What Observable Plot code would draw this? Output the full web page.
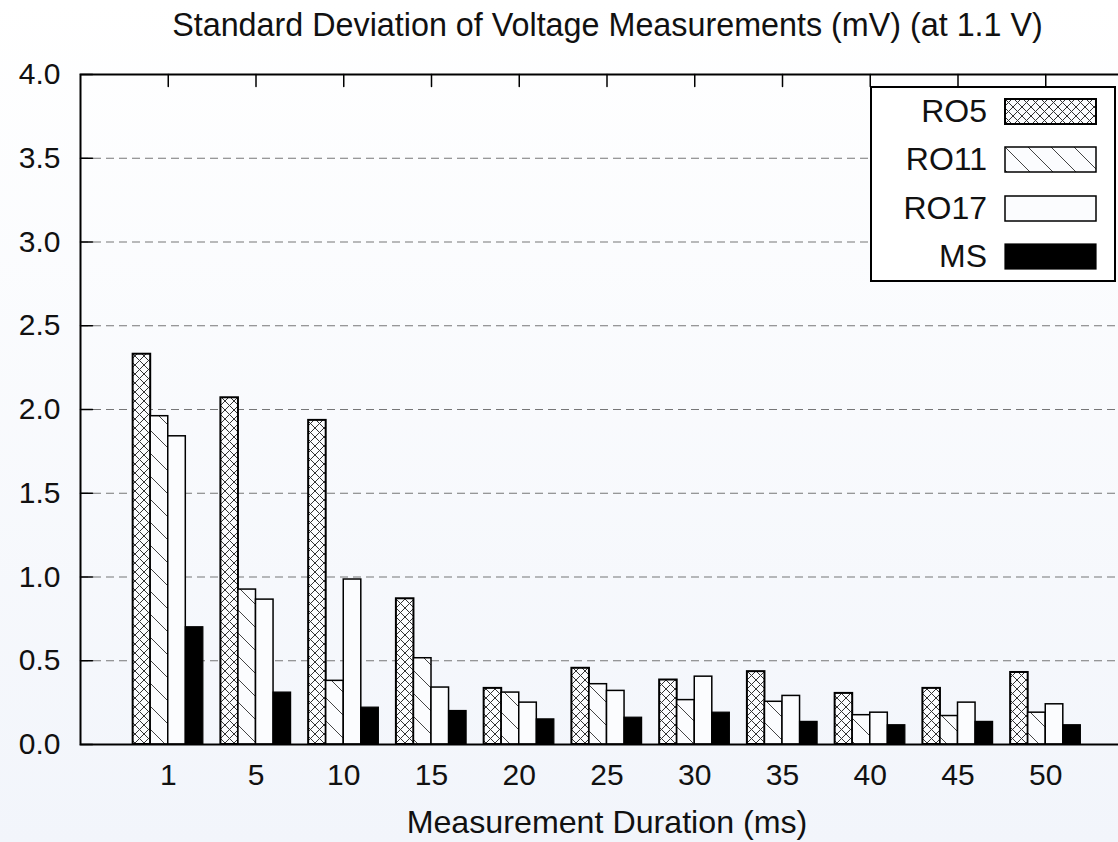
<!DOCTYPE html>
<html>
<head>
<meta charset="utf-8">
<script src="https://cdn.jsdelivr.net/npm/d3@7"></script>
<script src="https://cdn.jsdelivr.net/npm/@observablehq/plot@0.6"></script>
<style>
html, body { margin: 0; padding: 0; width: 1118px; height: 842px; overflow: hidden;
  background: linear-gradient(to bottom, #ffffff 0%, #f2f5fb 100%);
  font-family: "Liberation Sans", Arial, Helvetica, sans-serif; color: #111; }
#wrap { position: relative; width: 1118px; height: 842px; overflow: hidden; }
#title { position: absolute; left: 0; top: 0; width: 1215px; text-align: center; font-size: 32.3px; line-height: 51px; white-space: nowrap; }
#chart { position: absolute; left: 0; top: 50px; width: 1145px; }
#chart svg { max-width: none !important; }
#legend { position: absolute; left: 870px; top: 86px; width: 242px; height: 192px; background: #fff; border: 2px solid #000; box-sizing: content-box; }
.lrow { position: absolute; left: 0; width: 242px; height: 25px; }
.lrow .lab { position: absolute; right: 127px; top: -5px; font-size: 32px; line-height: 36px; white-space: nowrap; }
.lrow svg { position: absolute; left: 132px; top: 0; }
#defs { position: absolute; width: 0; height: 0; }
</style>
</head>
<body>
<svg id="defs" width="0" height="0">
  <defs>
    <pattern id="patRO5" patternUnits="userSpaceOnUse" width="9" height="9">
      <rect width="9" height="9" fill="#fbfcfe"/>
      <path d="M0,0L9,9M9,0L0,9" stroke="#333" stroke-width="1" fill="none"/>
    </pattern>
    <pattern id="patRO11" patternUnits="userSpaceOnUse" width="23" height="23">
      <rect width="23" height="23" fill="#fbfcfe"/>
      <path d="M0,0L23,23M-6,17L6,29M17,-6L29,6" stroke="#444" stroke-width="1" fill="none"/>
    </pattern>
  </defs>
</svg>
<div id="wrap">
  <div id="title"></div>
  <div id="chart"></div>
  <div id="legend"></div>
</div>
<script>
const titleText = "Standard Deviation of Voltage Measurements (mV) (at 1.1 V)";
const xLabel = "Measurement Duration (ms)";
const durations = ["1", "5", "10", "15", "20", "25", "30", "35", "40", "45", "50"];
const seriesNames = ["RO5", "RO11", "RO17", "MS"];
const ro5  = [2.33, 2.07, 1.935, 0.87, 0.335, 0.455, 0.385, 0.435, 0.305, 0.335, 0.43];
const ro11 = [1.96, 0.925, 0.38, 0.515, 0.31, 0.36, 0.265, 0.255, 0.175, 0.17, 0.19];
const ro17 = [1.84, 0.865, 0.985, 0.34, 0.25, 0.32, 0.405, 0.29, 0.19, 0.25, 0.24];
const ms   = [0.70, 0.31, 0.22, 0.20, 0.15, 0.16, 0.19, 0.135, 0.115, 0.135, 0.115];
const yTicks = [0, 0.5, 1, 1.5, 2, 2.5, 3, 3.5, 4];
const gridValues = [0.5, 1, 1.5, 2, 2.5, 3, 3.5];

const seriesValues = [ro5, ro11, ro17, ms];
const fills = ["url(#patRO5)", "url(#patRO11)", "#fbfcfe", "#000"];
const strokeWidths = [2, 1.5, 1.5, 1.2];

const rows = [];
seriesValues.forEach((vals, s) => vals.forEach((v, g) => rows.push({g, s, series: seriesNames[s], duration: durations[g], value: v})));

document.getElementById("title").textContent = titleText;

const groupIdx = durations.map((d, i) => i);
const barW = 0.2;
const lineShape = {draw(context, l) { context.moveTo(0, 0); context.lineTo(0, -l); }};

const plot = Plot.plot({
  width: 1145,
  height: 792,
  marginLeft: 80,
  marginRight: 12,
  marginTop: 24,
  marginBottom: 98,
  style: {background: "transparent", fontFamily: "'Liberation Sans', Arial, Helvetica, sans-serif", color: "#111", maxWidth: "none"},
  x: {type: "linear", domain: [-1, 11], axis: null},
  y: {domain: [0, 4], axis: null},
  marks: [
    Plot.gridY(gridValues, {stroke: "#555", strokeOpacity: 0.8, strokeWidth: 1, strokeDasharray: "8,5"}),
    ...seriesNames.map((name, s) => Plot.rectY(rows.filter(r => r.s === s), {
      x1: d => d.g - 2 * barW + s * barW,
      x2: d => d.g - 2 * barW + (s + 1) * barW,
      y1: 0,
      y2: "value",
      fill: fills[s],
      stroke: "#000",
      strokeWidth: strokeWidths[s]
    })),
    Plot.frame({stroke: "#000", strokeWidth: 2}),
    // inward tick marks: left border (y ticks) and top border (x ticks)
    Plot.vector(yTicks, {y: d => d, frameAnchor: "left", length: 12, rotate: 90, anchor: "start", shape: lineShape, stroke: "#000", strokeWidth: 1.5}),
    Plot.vector(groupIdx, {x: d => d, frameAnchor: "top", length: 12, rotate: 180, anchor: "start", shape: lineShape, stroke: "#000", strokeWidth: 1.5}),
    Plot.axisY(yTicks, {tickSize: 0, tickPadding: 20, tickFormat: d3.format(".1f"), fontSize: 30, label: null}),
    Plot.axisX(groupIdx, {anchor: "bottom", tickSize: 0, tickPadding: 19, tickFormat: i => durations[i], fontSize: 30, label: null}),
    Plot.text([xLabel], {frameAnchor: "bottom", dy: 88, text: d => d, fontSize: 32.2, fill: "#111"})
  ]
});
plot.style.maxWidth = "none";
document.getElementById("chart").appendChild(plot);

// legend
const legend = document.getElementById("legend");
const tops = [10, 58, 107, 155];
seriesNames.forEach((name, s) => {
  const row = document.createElement("div");
  row.className = "lrow";
  row.style.top = tops[s] + "px";
  const lab = document.createElement("div");
  lab.className = "lab";
  lab.textContent = name;
  row.appendChild(lab);
  const sw = d3.create("svg").attr("width", 94).attr("height", 27);
  sw.append("rect").attr("x", 1).attr("y", 1).attr("width", 91).attr("height", 25)
    .attr("fill", fills[s]).attr("stroke", "#000").attr("stroke-width", strokeWidths[s]);
  row.appendChild(sw.node());
  legend.appendChild(row);
});
</script>
</body>
</html>
